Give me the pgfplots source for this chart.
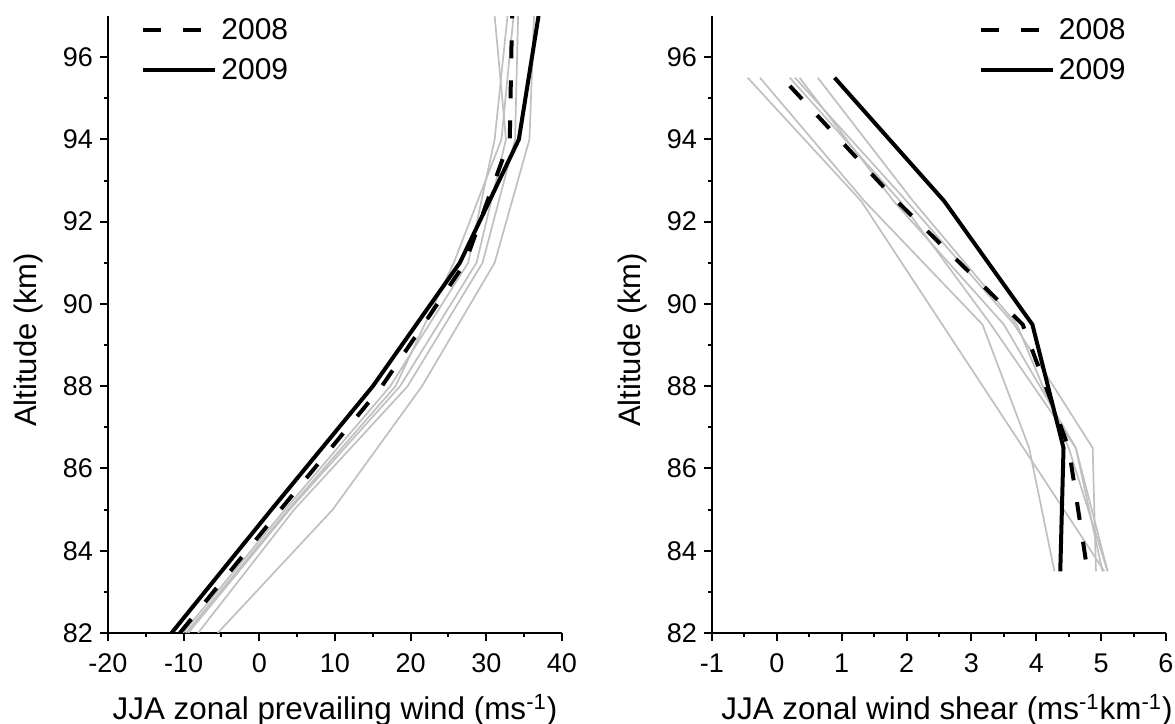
\documentclass[border=0pt]{standalone}
\usepackage{fontspec}
\setmainfont{Liberation Sans}
\usepackage{pgfplots}
\pgfplotsset{compat=1.18}

\definecolor{greyline}{HTML}{C0C0C0}

\pgfplotsset{
    origin axis/.style={
        scale only axis,
        width=227pt,
        height=308.5pt,
        axis x line*=bottom,
        axis y line*=left,
        axis line style={line width=1pt,-},
        tick align=outside,
        major tick length=4pt,
        minor tick length=2pt,
        every tick/.style={black,line width=1pt},
        minor tick num=1,
        tick label style={font=\fontsize{13.5}{15}\selectfont},
        xticklabel style={yshift=-3pt},
        /pgf/number format/assume math mode=true,
        every axis y label/.style={at={(axis description cs:0,0.475)},xshift=-40pt,rotate=90,anchor=center,font=\fontsize{15.5}{18}\selectfont},
        every axis x label/.style={at={(axis description cs:0.5,0)},yshift=-38.5pt,anchor=center,font=\fontsize{15.7}{18}\selectfont},
        ymin=82, ymax=97,
        ytick={82,84,...,96},
        ylabel={Altitude (km)},
        legend style={draw=none,fill=none,font=\fontsize{15}{18}\selectfont,row sep=4pt},
        legend cell align=left,
        legend image code/.code={\draw[##1] (0pt,0pt) -- (36pt,0pt);},
    },
    grey run/.style={color=greyline,line width=0.85pt,no marks,forget plot},
    y2008/.style={black,line width=2pt,dash pattern=on 9pt off 11pt,no marks},
    y2009/.style={black,line width=2pt,no marks},
}

\begin{document}
\begin{tikzpicture}
\useasboundingbox (0,0) rectangle (587.5pt,362pt);

% prevailing wind
\begin{axis}[
    origin axis,
    at={(54pt,45.5pt)}, anchor=south west,
    xmin=-20, xmax=40,
    xtick={-20,-10,...,40},
    xlabel={JJA zonal prevailing wind (ms\textsuperscript{-1})},
    legend style={at={(0.0595,1.01)},anchor=north west},
]
\addplot[grey run] coordinates {(-5.5,82) (9.7,85) (21.5,88) (31.1,91) (35.7,94) (36.3,97)};
\addplot[grey run] coordinates {(-8.1,82) (4.6,85) (19.6,88) (29.5,91) (33.8,94) (34.2,97)};
\addplot[grey run] coordinates {(-9.4,82) (4.0,85) (18.6,88) (28.7,91) (32.6,94) (31.1,97)};
\addplot[grey run] coordinates {(-10.1,82) (3.4,85) (17.3,88) (27.6,91) (31.1,94) (32.8,97)};
\addplot[grey run] coordinates {(-9.7,82) (3.8,85) (18.0,88) (25.7,91) (32.0,94) (33.6,97)};
\addplot[y2008] coordinates {(-10.5,82) (2.8,85) (16.2,88) (27.2,91) (33.1,94) (33.4,97)};
\addplot[y2009] coordinates {(-11.6,82) (1.6,85) (15.0,88) (26.5,91) (34.3,94) (36.9,97)};
\legend{2008,2009}
\end{axis}

% wind shear
\begin{axis}[
    origin axis,
    at={(356pt,45.5pt)}, anchor=south west,
    xmin=-1, xmax=6,
    xtick={-1,0,...,6},
    xlabel={JJA zonal wind shear (ms\textsuperscript{-1}km\textsuperscript{-1})},
    x label style={xshift=4pt},
    legend style={at={(0.934,1.01)},anchor=north east},
]
\addplot[grey run] coordinates {(-0.45,95.5) (1.3,92.5) (2.55,89.5) (3.8,86.5) (5.05,83.5)};
\addplot[grey run] coordinates {(-0.26,95.5) (1.35,92.5) (3.17,89.5) (3.89,86.5) (4.28,83.5)};
\addplot[grey run] coordinates {(0.2,95.5) (1.9,92.5) (3.3,89.5) (4.61,86.5) (5.1,83.5)};
\addplot[grey run] coordinates {(0.28,95.5) (2.0,92.5) (3.66,89.5) (4.87,86.5) (4.92,83.5)};
\addplot[grey run] coordinates {(0.35,95.5) (1.8,92.5) (3.5,89.5) (4.61,86.5) (5.02,83.5)};
\addplot[grey run] coordinates {(0.63,95.5) (2.1,92.5) (3.7,89.5) (4.5,86.5) (5.1,83.5)};
\addplot[y2008] coordinates {(0.2,95.3) (1.85,92.5) (3.79,89.5) (4.5,86.5) (4.79,83.5)};
\addplot[y2009] coordinates {(0.89,95.5) (2.58,92.5) (3.94,89.5) (4.42,86.5) (4.37,83.5)};
\legend{2008,2009}
\end{axis}
\end{tikzpicture}
\end{document}
